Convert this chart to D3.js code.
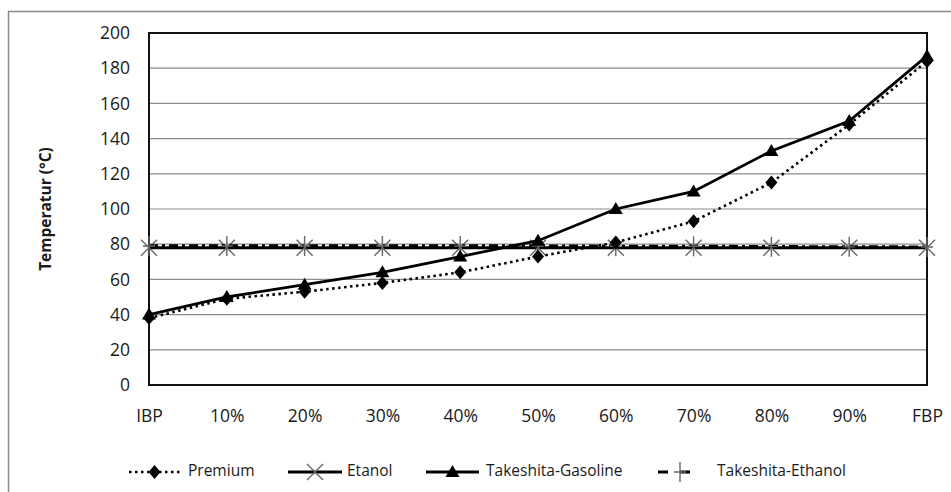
<!DOCTYPE html>
<html><head><meta charset="utf-8">
<script src="https://cdn.jsdelivr.net/npm/d3@7"></script>
<style>body{margin:0;background:#fff;} text{font-family:"Open Sans",Lato,sans-serif;fill:#1a1a1a;}</style>
</head><body>
<svg id="c" width="951" height="492"></svg>
<script>
const categories = ["IBP","10%","20%","30%","40%","50%","60%","70%","80%","90%","FBP"];
const premium = [38,49,53,58,64,73,81,93,115,148,184];
const etanol = [78,78,78,78,78,78,78,78,78,78,78];
const takeshitaGasoline = [40,50,57,64,73,82,100,110,133,150,187];
const takeshitaEthanol = [79,79,79,79,79,79,78.8,78.8,78.6,78.5,78.4];
const yTicks = [0,20,40,60,80,100,120,140,160,180,200];
const seriesNames = ["Premium","Etanol","Takeshita-Gasoline","Takeshita-Ethanol"];

const svg = d3.select("#c");
const L=149, R=927, T=33, B=385;
const x = d3.scalePoint().domain(categories).range([L,R]);
const y = d3.scaleLinear().domain([0,200]).range([B,T]);

svg.append("rect").attr("x",8.5).attr("y",11.5).attr("width",1000).attr("height",600)
  .attr("fill","none").attr("stroke","#8a8a8a").attr("stroke-width",1.5);

svg.append("g").selectAll("line").data(yTicks.filter(d=>d>0&&d<200)).join("line")
  .attr("x1",L).attr("x2",R).attr("y1",d=>y(d)).attr("y2",d=>y(d))
  .attr("stroke","#8c8c8c").attr("stroke-width",1.2);

const yAxis = svg.append("g").attr("transform",`translate(${L},0)`)
  .call(d3.axisLeft(y).tickValues(yTicks).tickSize(0).tickPadding(19));
yAxis.select(".domain").remove();
yAxis.selectAll("text").style("font-size","17.5px").attr("fill","#1a1a1a");
const xAxis = svg.append("g").attr("transform",`translate(0,${B})`)
  .call(d3.axisBottom(x).tickSize(0).tickPadding(25));
xAxis.select(".domain").remove();
xAxis.selectAll("text").style("font-size","17.5px").attr("fill","#1a1a1a");

svg.append("rect").attr("x",L).attr("y",T).attr("width",R-L).attr("height",B-T)
  .attr("fill","none").attr("stroke","#111").attr("stroke-width",2);

svg.append("text").attr("transform",`translate(47,${(T+B)/2}) rotate(-90)`)
  .attr("text-anchor","middle").attr("dominant-baseline","middle")
  .style("font-size","15.5px").style("font-weight","bold").text("Temperatur (°C)");

const line = d3.line().x((d,i)=>x(categories[i])).y(d=>y(d));

const styles = [
  {data:premium, dash:"2.5,3.5", w:2.6, marker:"diamond"},
  {data:etanol, dash:null, w:3, marker:"x"},
  {data:takeshitaGasoline, dash:null, w:2.8, marker:"tri"},
  {data:takeshitaEthanol, dash:"9,4,3,4", w:3.2, marker:"plus"}
];

function drawMarker(g, type, cx, cy){
  if(type==="diamond"){
    g.append("path").attr("d",`M${cx},${cy-7}L${cx+6},${cy}L${cx},${cy+7}L${cx-6},${cy}Z`).attr("fill","#000");
  } else if(type==="tri"){
    g.append("path").attr("d",`M${cx},${cy-7}L${cx+7},${cy+5}L${cx-7},${cy+5}Z`).attr("fill","#000");
  } else if(type==="x"){
    g.append("path").attr("d",`M${cx-8},${cy-8}L${cx+8},${cy+8}M${cx-8},${cy+8}L${cx+8},${cy-8}`)
     .attr("stroke","#666").attr("stroke-width",1.4);
  } else if(type==="plus"){
    g.append("path").attr("d",`M${cx},${cy-10}L${cx},${cy+10}M${cx-6},${cy}L${cx+6},${cy}`)
     .attr("stroke","#666").attr("stroke-width",1.4);
  }
}

const order=[1,3,0,2];
order.forEach(k=>{
  const s=styles[k];
  const g=svg.append("g");
  g.append("path").attr("d",line(s.data)).attr("fill","none").attr("stroke","#000")
   .attr("stroke-width",s.w).attr("stroke-dasharray",s.dash);
  s.data.forEach((v,i)=>drawMarker(g,s.marker,x(categories[i]),y(v)));
});

const legY=472;
const leg=[{x1:129,x2:180,tx:188},{x1:288,x2:342,tx:347},{x1:426,x2:479,tx:486},{x1:658,x2:702,tx:717}];
leg.forEach((p,k)=>{
  const s=styles[k];
  const g=svg.append("g");
  let dash=s.dash;
  if(k===3) dash="10,12";
  g.append("line").attr("x1",p.x1).attr("x2",p.x2).attr("y1",legY).attr("y2",legY)
   .attr("stroke","#000").attr("stroke-width",s.w).attr("stroke-dasharray",dash);
  drawMarker(g,s.marker,(p.x1+p.x2)/2,legY);
  g.append("text").attr("x",p.tx).attr("y",legY).attr("dominant-baseline","middle")
   .style("font-size","15.5px").text(seriesNames[k]);
});
</script>
</body></html>
